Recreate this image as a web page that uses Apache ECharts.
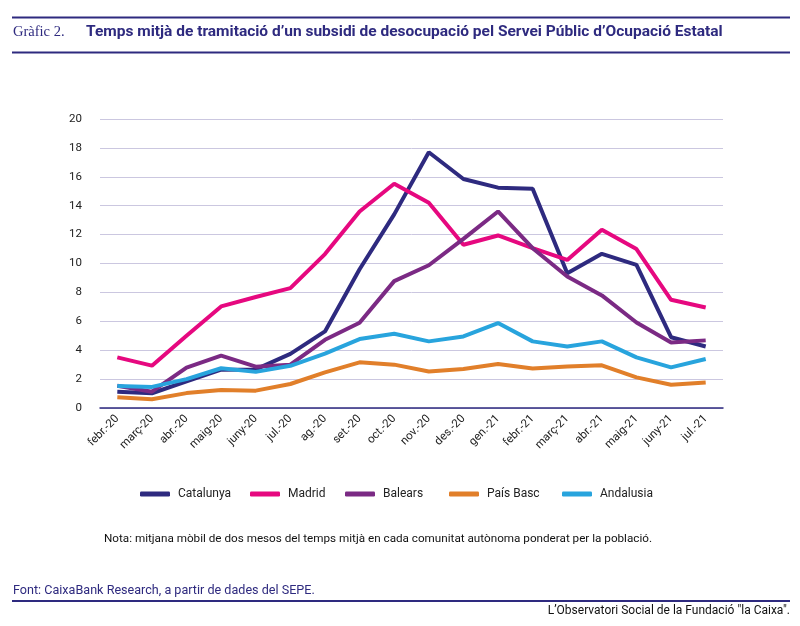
<!DOCTYPE html>
<html><head><meta charset="utf-8">
<script src="https://cdn.jsdelivr.net/npm/echarts@6/dist/echarts.min.js"></script>
<style>html,body{margin:0;padding:0;background:#fff}#c{width:800px;height:626px}</style>
</head><body><div id="c"></div>
<script>
const categories = ['febr.-20','març-20','abr.-20','maig-20','juny-20','jul.-20','ag.-20','set.-20','oct.-20','nov.-20','des.-20','gen.-21','febr.-21','març-21','abr.-21','maig-21','juny-21','jul.-21'];
const catalunya = [1.13, 1.02, 1.85, 2.65, 2.67, 3.75, 5.3, 9.6, 13.4, 17.7, 15.85, 15.25, 15.18, 9.33, 10.67, 9.9, 4.9, 4.26];
const madrid = [3.5, 2.93, 5.0, 7.03, 7.68, 8.3, 10.65, 13.6, 15.52, 14.2, 11.3, 11.94, 11.06, 10.25, 12.33, 11.0, 7.49, 6.96];
const balears = [1.54, 1.13, 2.8, 3.62, 2.86, 3.0, 4.72, 5.9, 8.78, 9.88, 11.7, 13.6, 11.06, 9.1, 7.79, 5.92, 4.54, 4.68];
const paisBasc = [0.75, 0.61, 1.03, 1.25, 1.2, 1.66, 2.47, 3.16, 3.0, 2.53, 2.7, 3.04, 2.74, 2.88, 2.95, 2.12, 1.61, 1.77];
const andalusia = [1.52, 1.46, 2.0, 2.75, 2.5, 2.92, 3.76, 4.77, 5.14, 4.61, 4.95, 5.88, 4.61, 4.26, 4.61, 3.5, 2.81, 3.39];
const yTicks = [0, 2, 4, 6, 8, 10, 12, 14, 16, 18, 20];

const NAVY = '#2e2a7f';
const seriesDefs = [
  {name: 'Catalunya', data: catalunya, color: '#2e2a7f', legendLeft: 140},
  {name: 'Madrid', data: madrid, color: '#e6087f', legendLeft: 250},
  {name: 'Balears', data: balears, color: '#7b2a84', legendLeft: 345},
  {name: 'País Basc', data: paisBasc, color: '#e17f2a', legendLeft: 449},
  {name: 'Andalusia', data: andalusia, color: '#28a4dd', legendLeft: 562}
];
const FONT = 'Roboto, "Liberation Sans", sans-serif';

const chart = echarts.init(document.getElementById('c'), null, {renderer: 'canvas'});
chart.setOption({
  animation: false,
  textStyle: {fontFamily: FONT},
  grid: {left: 100, right: 77, top: 119, bottom: 218, containLabel: false},
  xAxis: {
    type: 'category', data: categories, boundaryGap: true,
    axisLine: {lineStyle: {color: NAVY, width: 1.5}},
    axisTick: {show: false},
    axisLabel: {rotate: 45, fontSize: 11.5, color: '#222', margin: 9, interval: 0, fontFamily: FONT}
  },
  yAxis: {
    type: 'value', min: yTicks[0], max: yTicks[yTicks.length - 1], interval: 2,
    axisLine: {show: false}, axisTick: {show: false},
    splitLine: {lineStyle: {color: '#cbc7e0', width: 1}},
    axisLabel: {fontSize: 11.5, color: '#222', margin: 18, fontFamily: FONT}
  },
  legend: seriesDefs.map(s => ({
    data: [s.name], left: s.legendLeft, top: 488,
    icon: 'roundRect', itemWidth: 30, itemHeight: 5, itemGap: 0,
    textStyle: {fontSize: 12, color: '#222', fontFamily: FONT, padding: [0, 0, 0, 3]},
    padding: 0, selectedMode: false
  })),
  series: seriesDefs.map(s => ({
    name: s.name, type: 'line', data: s.data, symbol: 'none',
    lineStyle: {color: s.color, width: 4}, itemStyle: {color: s.color}
  })),
  graphic: [
    {type: 'rect', shape: {x: 12, y: 16.5, width: 778, height: 2}, style: {fill: NAVY}},
    {type: 'rect', shape: {x: 12, y: 51.5, width: 778, height: 2}, style: {fill: NAVY}},
    {type: 'text', left: 13, top: 25, style: {text: 'Gràfic 2.', font: '14.5px "Liberation Serif", "DejaVu Serif", serif', fill: NAVY}},
    {type: 'text', left: 86, top: 24, style: {text: 'Temps mitjà de tramitació d’un subsidi de desocupació pel Servei Públic d’Ocupació Estatal', font: 'bold 15.5px ' + FONT, fill: NAVY}},
    {type: 'text', left: 104, top: 533, style: {text: 'Nota: mitjana mòbil de dos mesos del temps mitjà en cada comunitat autònoma ponderat per la població.', font: '11.7px ' + FONT, fill: '#111'}},
    {type: 'text', left: 13, top: 584, style: {text: 'Font: CaixaBank Research, a partir de dades del SEPE.', font: '12.6px ' + FONT, fill: NAVY}},
    {type: 'rect', shape: {x: 12, y: 600, width: 778, height: 2}, style: {fill: NAVY}},
    {type: 'text', right: 10, top: 605, style: {text: 'L’Observatori Social de la Fundació "la Caixa".', font: '12px ' + FONT, fill: '#111'}}
  ]
});
</script></body></html>
